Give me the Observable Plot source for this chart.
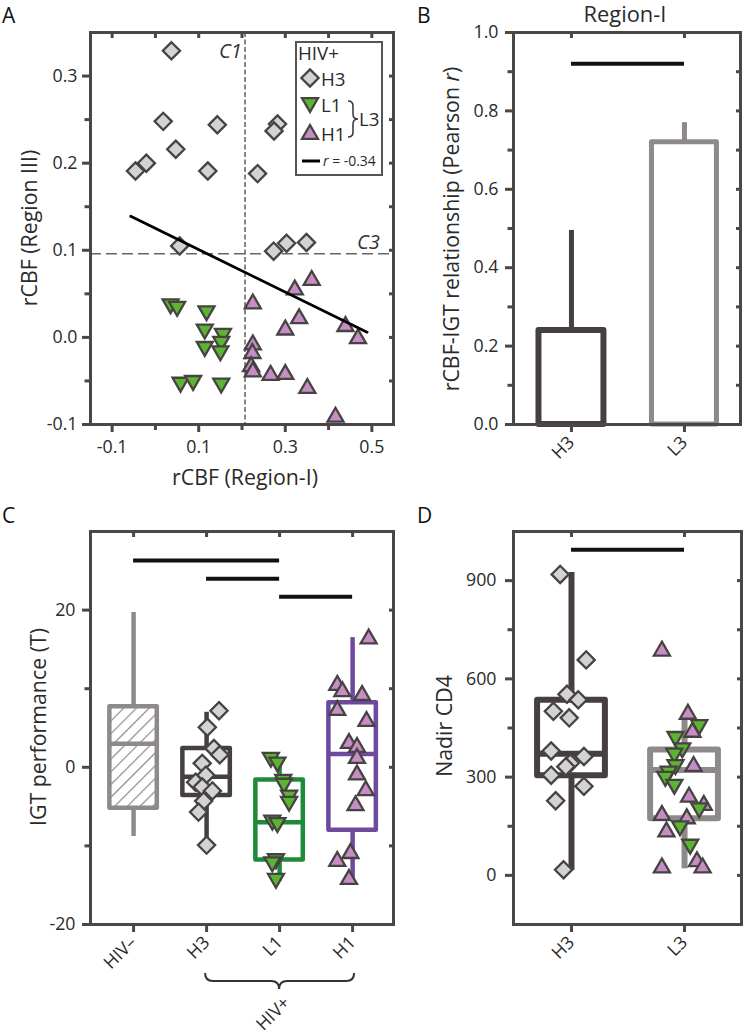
<!DOCTYPE html>
<html><head><meta charset="utf-8">
<script src="https://cdn.jsdelivr.net/npm/d3@7"></script>
<script src="https://cdn.jsdelivr.net/npm/@observablehq/plot@0.6"></script>
<style>
body{margin:0;background:#fff;}
#fig{position:relative;width:745px;height:1034px;overflow:hidden;font-family:"Open Sans",sans-serif;background:#fff;}
</style></head><body>
<svg width="0" height="0" style="position:absolute">
  <defs>
    <pattern id="hatch" patternUnits="userSpaceOnUse" width="9" height="9" patternTransform="rotate(45)">
      <rect width="9" height="9" fill="white"></rect>
      <line x1="0" y1="0" x2="0" y2="9" stroke="#8e8a89" stroke-width="2.4"></line>
    </pattern>
  </defs>
</svg>
<svg id="meas" width="10" height="10" style="position:absolute;left:-100px;top:-100px"></svg>
<div id="fig"></div>
<script>
// ---------------- DATA ----------------
// Panel A: rCBF Region-I (x) vs Region III (y)
const aH3x = [0.037,0.018,0.143,0.047,-0.046,-0.021,0.121,0.236,0.282,0.274,0.056,0.273,0.303,0.349];
const aH3y = [0.329,0.248,0.244,0.216,0.191,0.200,0.191,0.188,0.245,0.237,0.105,0.099,0.108,0.109];
const aL1x = [0.035,0.050,0.118,0.114,0.156,0.152,0.114,0.150,0.058,0.087,0.152];
const aL1y = [0.037,0.034,0.029,0.008,0.003,-0.006,-0.012,-0.017,-0.053,-0.051,-0.054];
const aH1x = [0.361,0.322,0.225,0.332,0.300,0.439,0.468,0.225,0.224,0.221,0.225,0.266,0.300,0.351,0.416];
const aH1y = [0.067,0.056,0.040,0.023,0.010,0.014,0.000,-0.007,-0.017,-0.032,-0.038,-0.042,-0.041,-0.057,-0.090];
const aFitX = [-0.057, 0.489];
const aFitY = [0.139, 0.006];
const cutC1 = 0.207;
const cutC3 = 0.096;
const aXMajor = [-0.1, 0.1, 0.3, 0.5];
const aYMajor = [-0.1, 0.0, 0.1, 0.2, 0.3];

// Panel B: Pearson r, Region-I
const bGroups = ["H3", "L3"];
const bR = [0.24, 0.72];
const bErrTop = [0.495, 0.77];
const bSig = [{from: "H3", to: "L3", y: 0.92}];
const bYMajor = [0, 0.2, 0.4, 0.6, 0.8, 1.0];

// Panel C: IGT performance (T)
const cGroups = ["HIV–", "H3", "L1", "H1"];
const cQ1 = [-5.2, -3.6, -11.8, -8.0];
const cMed = [3.0, -1.2, -7.0, 1.7];
const cQ3 = [7.7, 2.4, -1.6, 8.2];
const cLo = [-8.8, -9.7, -14.5, -14.5];
const cHi = [19.7, 7.0, 1.0, 16.5];
const cSig = [{from: "HIV–", to: "L1", y: 26.3}, {from: "H3", to: "L1", y: 24.0}, {from: "L1", to: "H1", y: 21.7}];
const cH3v = [7.2, 5.1, 2.4, 1.6, 0.5, -1.0, -1.9, -2.5, -3.0, -4.3, -5.7, -9.9];
const cH3j = [0.17, 0.01, 0.10, 0.18, -0.06, -0.01, -0.15, -0.06, 0.08, -0.04, -0.11, 0.0];
const cL1v = [1.1, 0.5, -1.7, -2.2, -3.7, -4.5, -6.9, -7.2, -11.8, -12.2, -14.3];
const cL1j = [-0.12, -0.03, 0.05, 0.06, 0.13, 0.13, -0.10, -0.03, -0.05, -0.10, -0.05];
const cH1v = [16.5, 10.6, 9.8, 9.3, 7.4, 6.0, 3.2, 2.7, 1.3, -0.8, -2.8, -4.7, -10.8, -11.8, -14.1];
const cH1j = [0.22, -0.21, -0.14, 0.13, -0.21, 0.19, -0.05, 0.06, 0.06, 0.06, 0.18, 0.04, -0.03, -0.21, -0.05];
const cYMajor = [-20, 0, 20];

// Panel D: Nadir CD4
const dGroups = ["H3", "L3"];
const dQ1 = [304, 173];
const dMed = [371, 322];
const dQ3 = [535, 383];
const dLo = [15, 20];
const dHi = [925, 492];
const dSig = [{from: "H3", to: "L3", y: 994}];
const dH3v = [919, 658, 553, 536, 501, 481, 380, 363, 343, 332, 306, 272, 228, 17];
const dH3j = [-0.10, 0.13, -0.04, 0.06, -0.16, -0.02, -0.18, 0.11, -0.01, -0.05, -0.18, 0.11, -0.14, -0.07];
const dL1v = [456, 420, 385, 369, 334, 314, 298, 274, 202, 147, 91];
const dL1j = [0.13, -0.08, -0.02, -0.09, -0.08, -0.14, -0.17, -0.09, 0.13, -0.04, 0.05];
const dH1v = [689, 496, 441, 337, 243, 218, 187, 177, 137, 46, 27, 27];
const dH1j = [-0.20, 0.03, 0.07, 0.08, 0.04, 0.17, -0.20, 0.02, -0.16, 0.11, -0.20, 0.16];
const dYMajor = [0, 300, 600, 900];

// ---------------- STYLE ----------------
const AX = "#4b4746", TXT = "#2a2a2a", MK = "#474343";
const F_H3 = "#d3d3d3", F_L1 = "#5cb530", F_H1 = "#c68ec4";
const groupColor = {"HIV–": "#8e8a89", "H3": "#463f3f", "L1": "#1f8a3b", "H1": "#6c4a9e", "L3": "#8e8a89"};
const FONT = '"Open Sans", sans-serif';

// font sizes fitted to the reference's text widths
const measSvg = d3.select("#meas");
function measure(txt, size, italic) {
  const t = measSvg.append("text").style("font-family", FONT).style("font-size", size + "px").text(txt);
  if (italic) t.style("font-style", "italic");
  const w = t.node().getComputedTextLength();
  t.remove();
  return w;
}
const fitSize = (txt, target, italic) => { const w = measure(txt, 20, italic); return w > 0 ? 20 * target / w : 17; };
const TICKFS = fitSize("0.3", 25);
const TITLEFS = fitSize("rCBF (Region-I)", 146);
const LEGFS = fitSize("HIV+", 41);
const LETTERFS = 21;
const HEADFS = fitSize("Region-I", 83);
const RFS = fitSize("r = -0.34", 53);
const CFS = fitSize("C1", 23, true);

const DIAMOND = {draw(c, s){const r = Math.sqrt(s/Math.PI); c.moveTo(0,-r); c.lineTo(r,0); c.lineTo(0,r); c.lineTo(-r,0); c.closePath();}};
const UP = {draw(c, s){const r = Math.sqrt(s/Math.PI), h = r*Math.sqrt(3); c.moveTo(0,-h*0.58); c.lineTo(r,h*0.42); c.lineTo(-r,h*0.42); c.closePath();}};
const DOWN = {draw(c, s){const r = Math.sqrt(s/Math.PI), h = r*Math.sqrt(3); c.moveTo(0,h*0.58); c.lineTo(r,-h*0.42); c.lineTo(-r,-h*0.42); c.closePath();}};
const symPath = (sym, r) => {const p = d3.path(); sym.draw(p, Math.PI*r*r); return p.toString();};
const dotOpts = {stroke: MK, strokeWidth: 2.3, strokeLinejoin: "miter"};

const baseStyle = {fontFamily: FONT, fontSize: TICKFS + "px", color: TXT, background: "transparent", overflow: "visible"};

function frameAxes(o) {
  const common = {stroke: AX, strokeWidth: 3, label: null, fontSize: TICKFS};
  const m = [];
  m.push(Plot.frame({stroke: AX, strokeWidth: 3}));
  m.push(Plot.axisX({...common, ticks: o.xMajor, tickSize: 8, tickPadding: o.xPad ?? 8, tickRotate: o.rot || 0, tickFormat: o.xFmt, fill: TXT}));
  if (o.xMinor) m.push(Plot.axisX({...common, ticks: o.xMinor, tickSize: 6, tickFormat: () => ""}));
  m.push(Plot.axisX({...common, anchor: "top", ticks: o.xTop, tickSize: 5, dy: 5, tickFormat: () => ""}));
  m.push(Plot.axisY({...common, ticks: o.yMajor, tickSize: 8, tickPadding: o.yPad ?? 5, tickFormat: o.yFmt, fill: TXT}));
  if (o.yMinor) m.push(Plot.axisY({...common, ticks: o.yMinor, tickSize: 5.5, tickFormat: () => ""}));
  m.push(Plot.axisY({...common, anchor: "right", ticks: o.yRight, tickSize: 5, dx: -5, tickFormat: () => ""}));
  return m;
}
function place(svg, left, top) {
  svg.style.position = "absolute"; svg.style.left = left + "px"; svg.style.top = top + "px";
  document.getElementById("fig").appendChild(svg);
  const s = d3.select(svg);
  s.selectAll("g[aria-label$='tick label']").style("font-size", TICKFS + "px").style("font-family", FONT);
  return s;
}
function styleText(t, size, anchor, fill) {
  return t.style("font-family", FONT).style("font-size", size + "px").style("text-anchor", anchor || "start")
    .style("fill", fill || TXT);
}
function addText(sel, x, y, txt, o = {}) {
  const t = sel.append("text").text(txt);
  styleText(t, o.size || TITLEFS, o.anchor, o.fill);
  if (o.rotate) t.attr("transform", `translate(${x},${y}) rotate(${o.rotate})`).style("dominant-baseline", "central");
  else t.attr("x", x).attr("y", y);
  if (o.italic) t.style("font-style", "italic");
  return t;
}
const fmt1 = d => d.toFixed(1);
const range = (a, b, s) => d3.range(a, b + s/2, s).map(v => +v.toFixed(4));

// ---------------- PANEL A ----------------
const aH3 = aH3x.map((x, i) => ({x, y: aH3y[i]}));
const aL1 = aL1x.map((x, i) => ({x, y: aL1y[i]}));
const aH1 = aH1x.map((x, i) => ({x, y: aH1y[i]}));
const aFit = aFitX.map((x, i) => ({x, y: aFitY[i]}));

const plotA = Plot.plot({
  width: 400, height: 500, marginLeft: 90, marginRight: 7, marginTop: 32, marginBottom: 76,
  style: baseStyle,
  x: {domain: [-0.15, 0.55]}, y: {domain: [-0.1, 0.35]},
  marks: [
    Plot.ruleX([cutC1], {stroke: "#555", strokeWidth: 1.4, strokeDasharray: "5,2.5"}),
    Plot.ruleY([cutC3], {stroke: "#666", strokeWidth: 1.4, strokeDasharray: "11,5"}),
    Plot.dot(aH3, {x: "x", y: "y", symbol: DIAMOND, r: 8.6, fill: F_H3, ...dotOpts}),
    Plot.dot(aL1, {x: "x", y: "y", symbol: DOWN, r: 8, fill: F_L1, ...dotOpts}),
    Plot.dot(aH1, {x: "x", y: "y", symbol: UP, r: 8, fill: F_H1, ...dotOpts}),
    Plot.line(aFit, {x: "x", y: "y", stroke: "#000", strokeWidth: 2.8}),
    ...frameAxes({
      xMajor: aXMajor, xMinor: [0, 0.2, 0.4], xTop: range(-0.1, 0.5, 0.1), xFmt: fmt1,
      yMajor: aYMajor, yMinor: [-0.05, 0.05, 0.15, 0.25], yRight: range(-0.05, 0.3, 0.05), yFmt: fmt1
    })
  ]
});
const sA = place(plotA, 0, 0);
addText(sA, 2, 23, "A", {size: LETTERFS, fill: "#111"});
addText(sA, 245, 485, "rCBF (Region-I)", {anchor: "middle"});
addText(sA, 28, 228, "rCBF (Region III)", {anchor: "middle", rotate: -90});
addText(sA, 242, 58, "C1", {anchor: "end", italic: true, size: CFS, fill: "#333"});
addText(sA, 357, 249, "C3", {italic: true, size: CFS, fill: "#333"});
// legend
const lg = sA.append("g");
lg.append("rect").attr("x", 296).attr("y", 42).attr("width", 86).attr("height", 133)
  .attr("fill", "white").attr("stroke", "#555").attr("stroke-width", 2);
addText(lg, 298, 60, "HIV+", {size: LEGFS});
[[DIAMOND, F_H3, 78, 86, "H3", 8.6], [DOWN, F_L1, 104, 112, "L1", 8], [UP, F_H1, 133, 141, "H1", 8]].forEach(([s, f, y, ty, t, r]) => {
  lg.append("path").attr("d", symPath(s, r)).attr("transform", `translate(310,${y})`)
    .attr("fill", f).attr("stroke", MK).attr("stroke-width", 2.3);
  addText(lg, 321, ty, t, {size: LEGFS});
});
lg.append("path").attr("d", "M348,101 Q353,101 353,106 L353,114 Q353,119 358,119 Q353,119 353,124 L353,132 Q353,137 348,137")
  .attr("fill", "none").attr("stroke", "#333").attr("stroke-width", 1.5);
addText(lg, 359, 126, "L3", {size: LEGFS});
lg.append("line").attr("x1", 302).attr("x2", 320).attr("y1", 161).attr("y2", 161).attr("stroke", "#000").attr("stroke-width", 3);
const rt = styleText(lg.append("text").attr("x", 323).attr("y", 166), RFS, "start");
rt.append("tspan").style("font-style", "italic").text("r");
rt.append("tspan").text(" = -0.34");

// ---------------- PANEL B ----------------
const bData = bGroups.map((g, i) => ({g, pos: i + 1, r: bR[i], top: bErrTop[i]}));
const posOf = (groups) => (g) => groups.indexOf(g) + 1;
const bPos = posOf(bGroups);
const plotB = Plot.plot({
  width: 345, height: 500, marginLeft: 113, marginRight: 5, marginTop: 32, marginBottom: 76,
  style: baseStyle,
  x: {domain: [0.487, 2.496]}, y: {domain: [0, 1]}, color: {type: "identity"},
  marks: [
    Plot.ruleX(bData, {x: "pos", y1: "r", y2: "top", stroke: d => groupColor[d.g], strokeWidth: 5}),
    Plot.rect(bData, {x1: d => d.pos - 0.2875, x2: d => d.pos + 0.2875, y1: 0, y2: "r", fill: "white",
      stroke: d => groupColor[d.g], strokeWidth: d => d.g === "H3" ? 6 : 5, strokeLinejoin: "round"}),
    Plot.ruleY(bSig, {x1: d => bPos(d.from), x2: d => bPos(d.to), y: "y", stroke: "#111", strokeWidth: 4}),
    ...frameAxes({
      xMajor: [1, 2], xTop: [1, 2], xFmt: d => bGroups[d - 1], rot: -45, xPad: 7,
      yMajor: bYMajor, yMinor: range(0.1, 0.9, 0.2), yRight: range(0.1, 0.9, 0.1), yFmt: fmt1, yPad: 7
    })
  ]
});
const sB = place(plotB, 400, 0);
addText(sB, 17, 23, "B", {size: LETTERFS, fill: "#111"});
addText(sB, 225, 22, "Region-I", {anchor: "middle", size: HEADFS});
const bt = styleText(sB.append("text").attr("transform", "translate(50,229) rotate(-90)"), TITLEFS, "middle")
  .style("dominant-baseline", "central");
bt.append("tspan").text("rCBF-IGT relationship (Pearson ");
bt.append("tspan").style("font-style", "italic").text("r");
bt.append("tspan").text(")");

// ---------------- PANEL C ----------------
const cPos = posOf(cGroups);
const cBox = cGroups.map((g, i) => ({g, pos: i + 1, q1: cQ1[i], med: cMed[i], q3: cQ3[i], lo: cLo[i], hi: cHi[i]}));
const jit = (vals, js, g, pos) => vals.map((v, i) => ({v, x: pos(g) + js[i]}));
const cH3 = jit(cH3v, cH3j, "H3", cPos), cL1 = jit(cL1v, cL1j, "L1", cPos), cH1 = jit(cH1v, cH1j, "H1", cPos);
const HW = 0.325;
function boxMarks(box, sw) {
  return [
    Plot.ruleX(box, {x: "pos", y1: "q3", y2: "hi", stroke: d => groupColor[d.g], strokeWidth: sw}),
    Plot.ruleX(box, {x: "pos", y1: "lo", y2: "q1", stroke: d => groupColor[d.g], strokeWidth: sw}),
    Plot.rect(box, {x1: d => d.pos - HW, x2: d => d.pos + HW, y1: "q1", y2: "q3",
      fill: d => d.g === "HIV–" ? "url(#hatch)" : "white", stroke: d => groupColor[d.g], strokeWidth: sw, strokeLinejoin: "round"}),
    Plot.ruleY(box, {x1: d => d.pos - HW, x2: d => d.pos + HW, y: "med", stroke: d => groupColor[d.g], strokeWidth: sw})
  ];
}
const plotC = Plot.plot({
  width: 400, height: 534, marginLeft: 90, marginRight: 7, marginTop: 31, marginBottom: 110,
  style: baseStyle,
  x: {domain: [0.41, 4.56]}, y: {domain: [-20, 30]}, color: {type: "identity"},
  marks: [
    ...boxMarks(cBox, 4.5),
    Plot.dot(cH3, {x: "x", y: "v", symbol: DIAMOND, r: 8.6, fill: F_H3, ...dotOpts}),
    Plot.dot(cL1, {x: "x", y: "v", symbol: DOWN, r: 8, fill: F_L1, ...dotOpts}),
    Plot.dot(cH1, {x: "x", y: "v", symbol: UP, r: 8, fill: F_H1, ...dotOpts}),
    Plot.ruleY(cSig, {x1: d => cPos(d.from), x2: d => cPos(d.to), y: "y", stroke: "#111", strokeWidth: 4}),
    ...frameAxes({
      xMajor: [1, 2, 3, 4], xTop: [1, 2, 3, 4], xFmt: d => cGroups[d - 1], rot: -45, xPad: 7,
      yMajor: cYMajor, yMinor: [-10, 10], yRight: [-10, 0, 10, 20], yFmt: d => String(d), yPad: 7
    })
  ]
});
const sC = place(plotC, 0, 500);
addText(sC, 2, 23, "C", {size: LETTERFS, fill: "#111"});
addText(sC, 37, 227, "IGT performance (T)", {anchor: "middle", rotate: -90});
{
  const xs = plotC.scale("x");
  const x0 = xs.apply(cPos("H3")) - 1, x1 = xs.apply(cPos("H1")) + 2, xm = xs.apply(cPos("L1"));
  const y0 = 473, y1 = 481, y2 = 489;
  sC.append("path")
    .attr("d", `M${x0},${y0} Q${x0},${y1} ${x0+8},${y1} L${xm-8},${y1} Q${xm},${y1} ${xm},${y2} Q${xm},${y1} ${xm+8},${y1} L${x1-8},${y1} Q${x1},${y1} ${x1},${y0}`)
    .attr("fill", "none").attr("stroke", "#333").attr("stroke-width", 2);
  styleText(sC.append("text").attr("transform", `translate(${xm + 7},${y2 + 10}) rotate(-45)`), TICKFS, "end")
    .style("dominant-baseline", "central").text("HIV+");
}

// ---------------- PANEL D ----------------
const dPos = posOf(dGroups);
const dBox = dGroups.map((g, i) => ({g, pos: i + 1, q1: dQ1[i], med: dMed[i], q3: dQ3[i], lo: dLo[i], hi: dHi[i]}));
const dH3 = jit(dH3v, dH3j, "H3", dPos), dL1 = jit(dL1v, dL1j, "L3", dPos), dH1 = jit(dH1v, dH1j, "L3", dPos);
const plotD = Plot.plot({
  width: 345, height: 534, marginLeft: 113, marginRight: 4, marginTop: 31, marginBottom: 110,
  style: baseStyle,
  x: {domain: [0.487, 2.504]}, y: {domain: [-150, 1050]}, color: {type: "identity"},
  marks: [
    Plot.ruleX(dBox, {x: "pos", y1: "q3", y2: "hi", stroke: d => groupColor[d.g], strokeWidth: 6}),
    Plot.ruleX(dBox, {x: "pos", y1: "lo", y2: "q1", stroke: d => groupColor[d.g], strokeWidth: 6}),
    Plot.rect(dBox, {x1: d => d.pos - 0.3, x2: d => d.pos + 0.3, y1: "q1", y2: "q3", fill: "white",
      stroke: d => groupColor[d.g], strokeWidth: 6, strokeLinejoin: "round"}),
    Plot.ruleY(dBox, {x1: d => d.pos - 0.3, x2: d => d.pos + 0.3, y: "med", stroke: d => groupColor[d.g], strokeWidth: 6}),
    Plot.dot(dH3, {x: "x", y: "v", symbol: DIAMOND, r: 8.6, fill: F_H3, ...dotOpts}),
    Plot.dot(dH1, {x: "x", y: "v", symbol: UP, r: 8, fill: F_H1, ...dotOpts}),
    Plot.dot(dL1, {x: "x", y: "v", symbol: DOWN, r: 8, fill: F_L1, ...dotOpts}),
    Plot.ruleY(dSig, {x1: d => dPos(d.from), x2: d => dPos(d.to), y: "y", stroke: "#111", strokeWidth: 4}),
    ...frameAxes({
      xMajor: [1, 2], xTop: [1, 2], xFmt: d => dGroups[d - 1], rot: -45, xPad: 7,
      yMajor: dYMajor, yMinor: [150, 450, 750], yRight: range(0, 900, 150), yFmt: d => String(d), yPad: 9
    })
  ]
});
const sD = place(plotD, 400, 500);
addText(sD, 17, 23, "D", {size: LETTERFS, fill: "#111"});
addText(sD, 43, 226, "Nadir CD4", {anchor: "middle", rotate: -90});
</script>
</body></html>
